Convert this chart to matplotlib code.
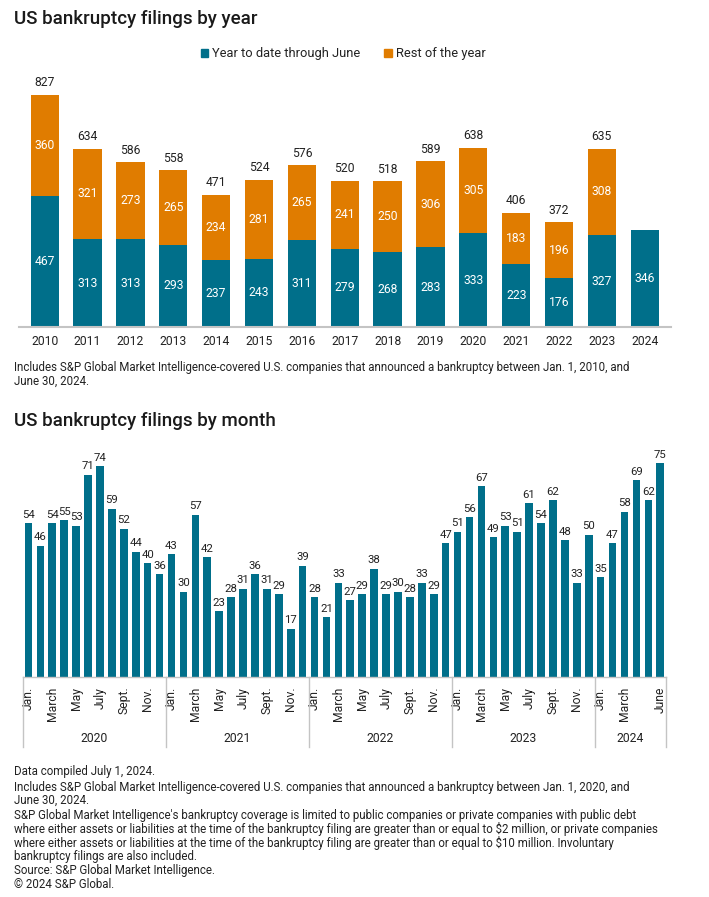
import matplotlib
matplotlib.use('Agg')
import matplotlib.pyplot as plt
import matplotlib.transforms as mtransforms
from matplotlib.patches import Patch

plt.rcParams['font.family'] = ['Roboto', 'DejaVu Sans']

TEAL = '#006f8a'
ORANGE = '#e07c00'
GRAY = '#c4c4c4'

# ---- data: by year ----
years = ['2010', '2011', '2012', '2013', '2014', '2015', '2016', '2017',
         '2018', '2019', '2020', '2021', '2022', '2023', '2024']
ytd_june = [467, 313, 313, 293, 237, 243, 311, 279, 268, 283, 333, 223, 176, 327, 346]
rest_of_year = [360, 321, 273, 265, 234, 281, 265, 241, 250, 306, 305, 183, 196, 308, 0]
totals = [827, 634, 586, 558, 471, 524, 576, 520, 518, 589, 638, 406, 372, 635, None]

# ---- data: by month ----
month_years = ['2020', '2021', '2022', '2023', '2024']
m2020 = [54, 46, 54, 55, 53, 71, 74, 59, 52, 44, 40, 36]
m2021 = [43, 30, 57, 42, 23, 28, 31, 36, 31, 29, 17, 39]
m2022 = [28, 21, 33, 27, 29, 38, 29, 30, 28, 33, 29, 47]
m2023 = [51, 56, 67, 49, 53, 51, 61, 54, 62, 48, 33, 50]
m2024 = [35, 47, 58, 69, 62, 75]
monthly_by_year = [m2020, m2021, m2022, m2023, m2024]
tick_months = ['Jan.', 'March', 'May', 'July', 'Sept.', 'Nov.']
tick_month_idx = [0, 2, 4, 6, 8, 10]
tick_months_2024 = ['Jan.', 'March', 'June']
tick_month_idx_2024 = [0, 2, 5]

W, H = 709, 897
fig = plt.figure(figsize=(W / 100, H / 100), dpi=100)


def fx(px):
    return px / W


def fy(py):
    return 1 - py / H


NOTE_FS = 8.3


def note_lines(lines, y0, step=13.4):
    for k, t in enumerate(lines):
        fig.text(fx(14), fy(y0 + k * step), t, fontsize=NOTE_FS, va='center',
                 ha='left', color='#222222')


# ---------------- top chart ----------------
fig.text(fx(14), fy(19), 'US bankruptcy filings by year', fontsize=13.5,
         fontweight='medium', va='center', ha='left', color='#1a1a1a')

scale_top = 0.281  # px per unit
ymax_top = 900
ax1 = fig.add_axes([fx(19), fy(327), fx(651.5), ymax_top * scale_top / H])
x = list(range(len(years)))
ax1.bar(x, ytd_june, width=0.66, color=TEAL)
ax1.bar(x, rest_of_year, bottom=ytd_june, width=0.66, color=ORANGE)
ax1.set_xlim(-0.6, len(years) - 0.4)
ax1.set_ylim(0, ymax_top)
for i in x:
    ax1.text(i, ytd_june[i] / 2, str(ytd_june[i]), ha='center', va='center',
             color='white', fontsize=8.7)
    if rest_of_year[i]:
        ax1.text(i, ytd_june[i] + rest_of_year[i] / 2, str(rest_of_year[i]),
                 ha='center', va='center', color='white', fontsize=8.7)
    if totals[i] is not None:
        ax1.annotate(str(totals[i]), (i, totals[i]), xytext=(0, 4),
                     textcoords='offset points', ha='center', va='bottom',
                     fontsize=8.7, color='#222222')
ax1.set_xticks(x)
ax1.set_xticklabels(years, fontsize=8.7, color='#222222')
ax1.tick_params(axis='x', length=0, pad=6)
ax1.set_yticks([])
for s in ['top', 'right', 'left']:
    ax1.spines[s].set_visible(False)
ax1.spines['bottom'].set_color(GRAY)
ax1.spines['bottom'].set_linewidth(1.5)

fig.legend(handles=[Patch(color=TEAL, label='Year to date through June'),
                    Patch(color=ORANGE, label='Rest of the year')],
           loc='center', bbox_to_anchor=(fx(343), fy(54)), ncol=2, frameon=False,
           fontsize=9.3, handlelength=0.6, handleheight=0.6, handletextpad=0.3,
           columnspacing=1.8, labelcolor='#222222')

note_lines(['Includes S&P Global Market Intelligence-covered U.S. companies that announced '
            'a bankruptcy between Jan. 1, 2010, and',
            'June 30, 2024.'], 368)

# ---------------- bottom chart ----------------
fig.text(fx(14), fy(421), 'US bankruptcy filings by month', fontsize=13.5,
         fontweight='medium', va='center', ha='left', color='#1a1a1a')

scale_bot = 2.85
ymax_bot = 80
ax2 = fig.add_axes([fx(22.5), fy(677), fx(643.7), ymax_bot * scale_bot / H])
values = [v for yr in monthly_by_year for v in yr]
xm = list(range(len(values)))
ax2.bar(xm, values, width=0.64, color=TEAL)
ax2.set_xlim(-0.5, len(values) - 0.5)
ax2.set_ylim(0, ymax_bot)
for i, v in zip(xm, values):
    ax2.annotate(str(v), (i, v), xytext=(0, 2.5), textcoords='offset points',
                 ha='center', va='bottom', fontsize=8.2, color='#222222')

ticks, labels = [], []
start = 0
bounds = [-0.5]
centers = []
for yr, vals in zip(month_years, monthly_by_year):
    if yr == '2024':
        idxs, names = tick_month_idx_2024, tick_months_2024
    else:
        idxs, names = tick_month_idx, tick_months
    for k, n in zip(idxs, names):
        ticks.append(start + k)
        labels.append(n)
    centers.append(start + (len(vals) - 1) / 2)
    start += len(vals)
    bounds.append(start - 0.5)

ax2.set_xticks(ticks)
ax2.set_xticklabels(labels, rotation=90, fontsize=8.7, color='#222222')
ax2.tick_params(axis='x', length=0, pad=7)
ax2.set_yticks([])
for s in ['top', 'right', 'left', 'bottom']:
    ax2.spines[s].set_visible(False)

trans = mtransforms.blended_transform_factory(ax2.transData, ax2.transAxes)
depth = 70 / (ymax_bot * scale_bot)
for b in bounds:
    ax2.plot([b, b], [0, -depth], transform=trans, color=GRAY, lw=1, clip_on=False)
ax2.plot([bounds[0], bounds[-1]], [0, 0], transform=trans, color=GRAY, lw=1, clip_on=False)
for c, yr in zip(centers, month_years):
    ax2.text(c, -62 / (ymax_bot * scale_bot), yr, transform=trans, ha='center',
             va='center', fontsize=8.7, color='#222222')

note_lines(['Data compiled July 1, 2024.'], 772)
note_lines(['Includes S&P Global Market Intelligence-covered U.S. companies that announced a '
            'bankruptcy between Jan. 1, 2020, and',
            'June 30, 2024.'], 787)
note_lines(["S&P Global Market Intelligence's bankruptcy coverage is limited to public companies "
            "or private companies with public debt",
            "where either assets or liabilities at the time of the bankruptcy filing are greater "
            "than or equal to $2 million, or private companies",
            "where either assets or liabilities at the time of the bankruptcy filing are greater "
            "than or equal to $10 million. Involuntary",
            "bankruptcy filings are also included."], 816)
note_lines(['Source: S&P Global Market Intelligence.'], 870)
note_lines(['\u00a9 2024 S&P Global.'], 884)

fig.savefig('out.png', dpi=100)
